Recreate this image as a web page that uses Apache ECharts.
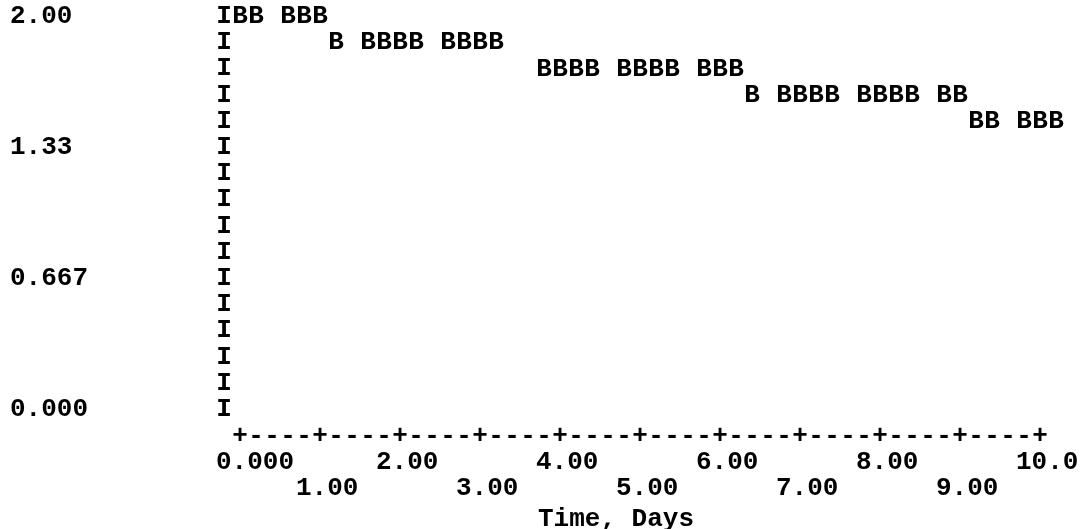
<!DOCTYPE html>
<html>
<head>
<meta charset="utf-8">
<script src="https://cdn.jsdelivr.net/npm/echarts@6/dist/echarts.min.js"></script>
<style>
    html, body { margin: 0; padding: 0; background: #fff; }
    #chart { width: 1084px; height: 529px; }
</style>
</head>
<body>
<div id="chart"></div>
<script>
    // time (days) of each plotted 'B' and its value
    const days = [0, 0.2, 0.6, 0.8, 1.0,
        1.2, 1.6, 1.8, 2.0, 2.2, 2.6, 2.8, 3.0, 3.2,
        3.8, 4.0, 4.2, 4.4, 4.8, 5.0, 5.2, 5.4, 5.8, 6.0, 6.2,
        6.4, 6.8, 7.0, 7.2, 7.4, 7.8, 8.0, 8.2, 8.4, 8.8, 9.0,
        9.2, 9.4, 9.8, 10.0, 10.2]
    const values = [2.00, 2.00, 2.00, 2.00, 2.00,
        1.867, 1.867, 1.867, 1.867, 1.867, 1.867, 1.867, 1.867, 1.867,
        1.733, 1.733, 1.733, 1.733, 1.733, 1.733, 1.733, 1.733, 1.733, 1.733, 1.733,
        1.600, 1.600, 1.600, 1.600, 1.600, 1.600, 1.600, 1.600, 1.600, 1.600, 1.600,
        1.467, 1.467, 1.467, 1.467, 1.467]
    const yTickLabels = ['0.000', '0.667', '1.33', '2.00']
    const xTickLabels = ['0.000', '1.00', '2.00', '3.00', '4.00', '5.00', '6.00', '7.00', '8.00', '9.00', '10.0']
    const xName = 'Time, Days'

    const mono = "'Liberation Mono', 'Courier New', monospace"
    const txt = { fontFamily: mono, fontWeight: 'bold', fontSize: 26, color: '#000' }
    const hidden = { axisLine: { show: false }, axisTick: { show: false }, splitLine: { show: false } }

    const chart = echarts.init(document.getElementById('chart'))
    const xLabel = (parity, margin) => Object.assign({
        type: 'value', min: 0, max: 10, interval: 1, position: 'bottom', offset: 0,
        axisLabel: Object.assign({}, txt, {
            margin: margin,
            align: 'center',
            verticalAlign: 'middle',
            formatter: (v) => {
                const i = Math.round(v)
                return i % 2 === parity ? '{a|' + xTickLabels[i] + '}' : ''
            },
            rich: { a: Object.assign({}, txt, { width: 48, align: 'left' }) }
        })
    }, hidden)

    chart.setOption({
        animation: false,
        grid: { left: 240, right: 44, top: 16.5, bottom: 119.5, containLabel: false, outerBoundsMode: 'none' },
        xAxis: [
            // the +----+ axis row
            Object.assign({
                type: 'value', min: 0, max: 10, interval: 0.2, position: 'bottom',
                axisLabel: Object.assign({}, txt, {
                    margin: 26.5,
                    align: 'center',
                    verticalAlign: 'middle',
                    formatter: (v) => Math.abs(v - Math.round(v)) < 1e-6 ? '+' : '-'
                })
            }, hidden),
            xLabel(0, 52.5),
            Object.assign(xLabel(1, 78.7), {
                name: xName,
                nameLocation: 'middle',
                nameGap: 104,
                nameTextStyle: Object.assign({}, txt, { verticalAlign: 'middle', padding: [0, 48, 0, 0] })
            })
        ],
        yAxis: [
            Object.assign({
                type: 'value', min: 0, max: 2, interval: 2 / 3, position: 'left',
                axisLabel: Object.assign({}, txt, {
                    margin: 230,
                    align: 'left',
                    verticalAlign: 'middle',
                    formatter: (v) => yTickLabels[Math.round(v * 1.5)]
                })
            }, hidden),
            // the I column
            Object.assign({
                type: 'value', min: 0, max: 2, interval: 2 / 15, position: 'left', offset: 0,
                axisLabel: Object.assign({}, txt, {
                    margin: 16,
                    align: 'center',
                    verticalAlign: 'middle',
                    formatter: () => 'I'
                })
            }, hidden)
        ],
        series: [{
            type: 'scatter',
            clip: false,
            symbolSize: 1,
            itemStyle: { color: '#fff', opacity: 1 },
            label: Object.assign({}, txt, {
                show: true,
                position: 'inside',
                opacity: 1,
                textBorderWidth: 0,
                formatter: 'B'
            }),
            emphasis: { disabled: true },
            data: days.map((d, i) => [d, values[i]])
        }]
    })
</script>
</body>
</html>
